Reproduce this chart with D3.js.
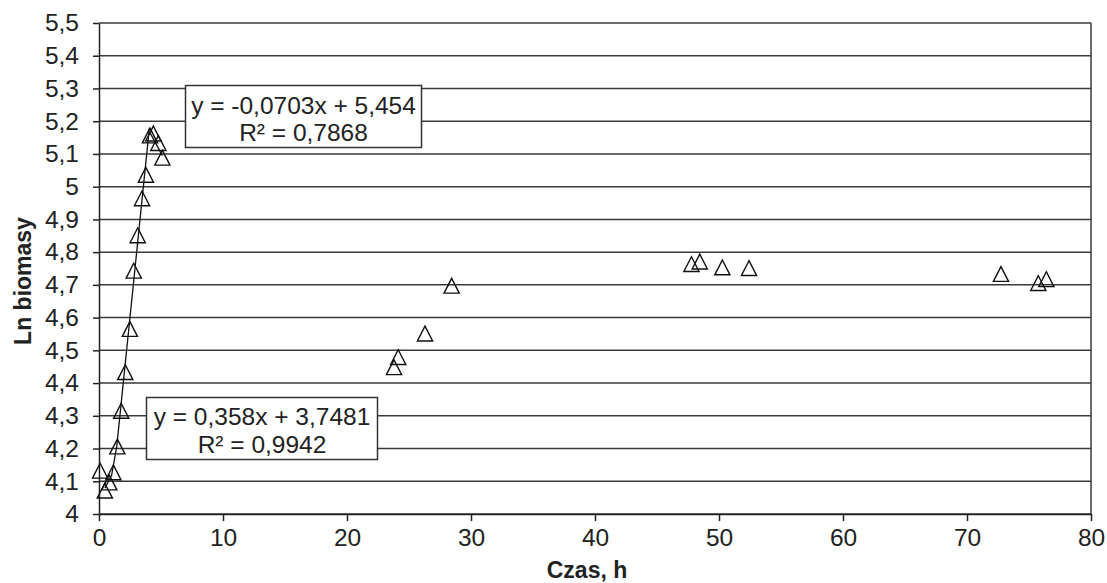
<!DOCTYPE html>
<html>
<head>
<meta charset="utf-8">
<script src="https://cdn.jsdelivr.net/npm/d3@7/dist/d3.min.js"></script>
<style>
  html, body { margin: 0; padding: 0; background: #fff; }
  svg { display: block; }
  text { font-family: "Liberation Sans", Arial, Helvetica, sans-serif; fill: #222; }
</style>
</head>
<body>
<svg id="chart" width="1107" height="583"></svg>
<script>
// ---- data ----
const timeH = [0.09, 0.47, 0.83, 1.16, 1.48, 1.79, 2.12, 2.49, 2.80, 3.12, 3.47, 3.78,
               4.11, 4.38, 4.79, 5.11, 23.79, 24.13, 26.29, 28.44, 47.78, 48.45, 50.27,
               52.42, 72.74, 75.75, 76.40];
const lnBiomass = [4.132, 4.071, 4.096, 4.127, 4.206, 4.315, 4.433, 4.565, 4.743, 4.851,
                   4.964, 5.036, 5.156, 5.162, 5.133, 5.088, 4.448, 4.479, 4.551, 4.697,
                   4.763, 4.771, 4.753, 4.751, 4.733, 4.705, 4.717];
// growth-phase trendline as drawn in the picture
const growthLineX = [0.48, 1.02, 1.43, 4.06];
const growthLineY = [4.079, 4.119, 4.206, 5.178];
// decline-phase trendline: y = -0.0703x + 5.454 over its x-range
const declineLineX = [4.10, 5.11];
const declineSlope = -0.0703, declineIntercept = 5.454;

const xTicks = [0, 10, 20, 30, 40, 50, 60, 70, 80];
const yTicks = [4, 4.1, 4.2, 4.3, 4.4, 4.5, 4.6, 4.7, 4.8, 4.9, 5, 5.1, 5.2, 5.3, 5.4, 5.5];
const yTickLabels = ["4", "4,1", "4,2", "4,3", "4,4", "4,5", "4,6", "4,7", "4,8", "4,9",
                     "5", "5,1", "5,2", "5,3", "5,4", "5,5"];
const eqDecline = ["y = -0,0703x + 5,454", "R² = 0,7868"];
const eqGrowth = ["y = 0,358x + 3,7481", "R² = 0,9942"];
const xTitle = "Czas, h";
const yTitle = "Ln biomasy";

// ---- layout ----
const svg = d3.select("#chart");
const pL = 99, pR = 1091, pT = 23, pB = 514;
const x = d3.scaleLinear().domain([0, 80]).range([pL, pR]);
const y = d3.scaleLinear().domain([4, 5.5]).range([pB, pT]);
const gridColor = "#3a3a3a";
const fs = 24.5;

svg.append("rect").attr("width", 1107).attr("height", 583).attr("fill", "#fff");

// horizontal gridlines
svg.append("g").selectAll("line").data(yTicks).join("line")
  .attr("x1", pL).attr("x2", pR)
  .attr("y1", d => y(d)).attr("y2", d => y(d))
  .attr("stroke", gridColor).attr("stroke-width", 1.5);

// right border
svg.append("line").attr("x1", pR).attr("x2", pR).attr("y1", pT).attr("y2", pB)
  .attr("stroke", gridColor).attr("stroke-width", 1.5);

// y axis
const yAxis = d3.axisLeft(y).tickValues(yTicks)
  .tickFormat((d, i) => yTickLabels[i]).tickSize(6).tickSizeOuter(0).tickPadding(14);
const gy = svg.append("g").attr("transform", `translate(${pL},0)`).call(yAxis);
gy.select(".domain").attr("stroke", "#222").attr("stroke-width", 1.5);
gy.selectAll(".tick line").attr("stroke", "#222").attr("stroke-width", 1.5);
gy.selectAll(".tick text").attr("font-size", fs).attr("fill", "#222")
  .style("font-family", "'Liberation Sans', Arial, sans-serif");

// x axis
const xAxis = d3.axisBottom(x).tickValues(xTicks).tickFormat(d => String(d))
  .tickSize(7).tickSizeOuter(0).tickPadding(8);
const gx = svg.append("g").attr("transform", `translate(0,${pB})`).call(xAxis);
gx.select(".domain").attr("stroke", "#222").attr("stroke-width", 1.5);
gx.selectAll(".tick line").attr("stroke", "#222").attr("stroke-width", 1.5);
gx.selectAll(".tick text").attr("font-size", fs).attr("fill", "#222")
  .style("font-family", "'Liberation Sans', Arial, sans-serif");

// trendlines
const line = d3.line().x(d => x(d[0])).y(d => y(d[1]));
svg.append("path")
  .datum(growthLineX.map((v, i) => [v, growthLineY[i]]))
  .attr("d", line).attr("fill", "none").attr("stroke", "#111").attr("stroke-width", 1.3);
svg.append("path")
  .datum(declineLineX.map(v => [v, declineSlope * v + declineIntercept]))
  .attr("d", line).attr("fill", "none").attr("stroke", "#111").attr("stroke-width", 1.3);

// markers (open triangles)
const tri = "M0,-7.5L7.6,7.3L-7.6,7.3Z";
svg.append("g").selectAll("path").data(timeH.map((v, i) => [v, lnBiomass[i]])).join("path")
  .attr("transform", d => `translate(${x(d[0])},${y(d[1])})`)
  .attr("d", tri).attr("fill", "none").attr("stroke", "#111").attr("stroke-width", 1.4);

// equation boxes
function eqBox(x0, y0, w, h, lines, base1, base2) {
  const g = svg.append("g");
  g.append("rect").attr("x", x0).attr("y", y0).attr("width", w).attr("height", h)
    .attr("fill", "#fff").attr("stroke", "#333").attr("stroke-width", 1.5);
  g.append("text").attr("x", x0 + w / 2).attr("y", base1).attr("text-anchor", "middle")
    .attr("font-size", fs).text(lines[0]);
  g.append("text").attr("x", x0 + w / 2).attr("y", base2).attr("text-anchor", "middle")
    .attr("font-size", fs).text(lines[1]);
}
eqBox(185.5, 85.5, 236, 62, eqDecline, 113.5, 140.5);
eqBox(146.5, 397.5, 231, 62, eqGrowth, 424.5, 452.5);

// axis titles
svg.append("text").attr("x", 587).attr("y", 577.5).attr("text-anchor", "middle")
  .attr("font-size", 23).attr("font-weight", "bold").text(xTitle);
svg.append("text").attr("transform", "translate(31,281) rotate(-90)")
  .attr("text-anchor", "middle").attr("font-size", 23).attr("font-weight", "bold").text(yTitle);
</script>
</body>
</html>
